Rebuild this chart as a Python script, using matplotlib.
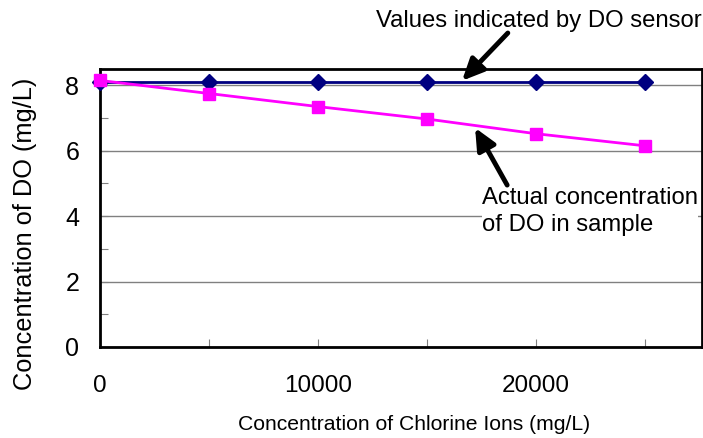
import numpy as np
import matplotlib.pyplot as plt

plt.rcParams['font.family'] = ['Liberation Sans', 'DejaVu Sans']

# chlorine ion concentration (mg/L)
chlorine = [0, 5000, 10000, 15000, 20000, 25000]
# DO reported by the sensor
sensor_do = [8.11, 8.11, 8.11, 8.11, 8.11, 8.11]
# actual DO in the sample
actual_do = [8.15, 7.75, 7.35, 6.97, 6.52, 6.15]

fig = plt.figure(figsize=(7.03, 4.38), dpi=100)
ax = fig.add_axes([0.1422, 0.2078, 0.8563, 0.6347])

ax.plot(chlorine, sensor_do, color='#000080', lw=2, marker='D', markersize=8,
        zorder=3, clip_on=False)
ax.plot(chlorine, actual_do, color='#FF00FF', lw=2, marker='s', markersize=9,
        zorder=4, clip_on=False)

ax.set_xlim(0, 27600)
ax.set_ylim(0, 8.5)
ax.set_xticks([0, 10000, 20000])
ax.set_xticks([5000, 15000, 25000], minor=True)
ax.set_yticks([0, 2, 4, 6, 8])
ax.set_yticks([1, 3, 5, 7], minor=True)
ax.yaxis.grid(True, which='major', color='#808080', lw=1)
ax.set_axisbelow(True)
ax.tick_params(which='both', direction='in', length=6, width=0.8, color='#808080')
ax.tick_params(axis='x', which='major', pad=20, labelsize=17.5)
ax.tick_params(axis='y', which='major', pad=15, labelsize=18)
for s in ax.spines.values():
    s.set_linewidth(2)

ax.set_xlabel('Concentration of Chlorine Ions (mg/L)', fontsize=15.2)
ax.xaxis.set_label_coords(0.521, -0.245)
ax.set_ylabel('Concentration of DO (mg/L)', fontsize=18.3)
ax.yaxis.set_label_coords(-0.105, 0.406)

arrow = dict(arrowstyle='-|>,head_length=1.3,head_width=0.6', lw=3.5,
             color='black', shrinkA=0, shrinkB=0)
ax.annotate('', xy=(16600, 8.14), xytext=(18700, 9.6), arrowprops=arrow,
            annotation_clip=False, zorder=6)
ax.text(12650, 9.97, 'Values indicated by DO sensor', fontsize=17.2,
        ha='left', va='center', clip_on=False)

ax.annotate('', xy=(17200, 6.7), xytext=(18670, 4.95), arrowprops=arrow,
            annotation_clip=False, zorder=6)
ax.text(17520, 4.88, 'Actual concentration\nof DO in sample', fontsize=17.2,
        ha='left', va='top', linespacing=1.3, zorder=5,
        bbox=dict(facecolor='white', edgecolor='none', pad=0))

fig.savefig('out.png', dpi=100)
